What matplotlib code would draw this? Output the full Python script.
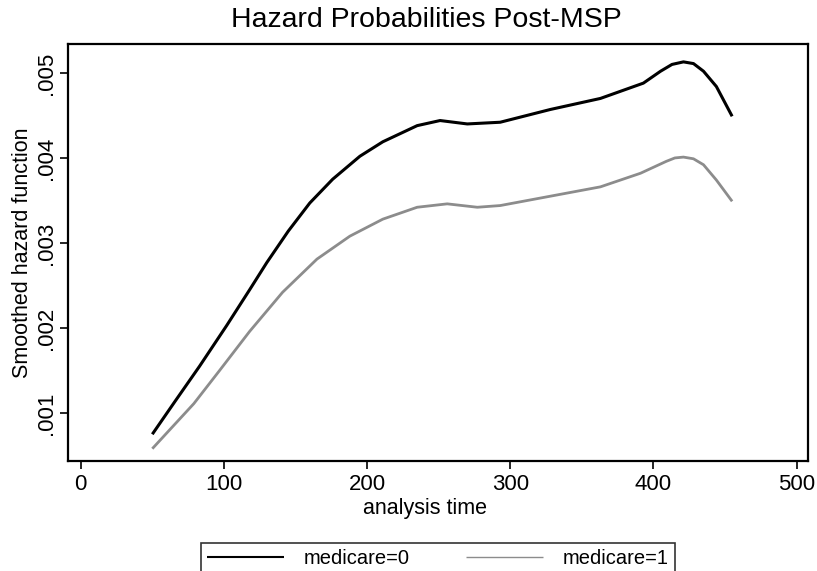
import matplotlib
matplotlib.use("Agg")
import matplotlib.pyplot as plt
from matplotlib.ticker import FuncFormatter

plt.rcParams['font.family'] = ['Liberation Sans', 'DejaVu Sans']

# data
time_m0 = [50, 66, 83, 102, 118, 130, 145, 160, 176, 195, 211, 235, 251, 270,
           293, 328, 363, 393, 405, 413, 421, 428, 435, 444, 455]
hazard_m0 = [0.00075, 0.00114, 0.00155, 0.00203, 0.00245, 0.00277, 0.00314,
             0.00347, 0.00375, 0.00402, 0.00419, 0.00438, 0.00444, 0.00440,
             0.00442, 0.00457, 0.00470, 0.00488, 0.00502, 0.00510, 0.00513,
             0.00511, 0.00502, 0.00484, 0.00449]
time_m1 = [50, 79, 97, 118, 141, 165, 188, 211, 235, 256, 277, 293, 328,
           363, 391, 409, 415, 421, 428, 435, 444, 455]
hazard_m1 = [0.00058, 0.00111, 0.00150, 0.00196, 0.00242, 0.00281, 0.00308,
             0.00328, 0.00342, 0.00346, 0.00342, 0.00344, 0.00355, 0.00366,
             0.00382, 0.00396, 0.00400, 0.00401, 0.00399, 0.00392, 0.00374,
             0.00349]
x_ticks = [0, 100, 200, 300, 400, 500]
y_ticks = [0.001, 0.002, 0.003, 0.004, 0.005]
labels = ["medicare=0", "medicare=1"]
title = "Hazard Probabilities Post-MSP"

fig = plt.figure(figsize=(8.17, 5.71), dpi=100)
ax = fig.add_axes([0.0832, 0.1926, 0.9058, 0.7303])

l0, = ax.plot(time_m0, hazard_m0, color='black', lw=2.2,
              solid_joinstyle='round', solid_capstyle='butt')
l1, = ax.plot(time_m1, hazard_m1, color='#8c8c8c', lw=2.0,
              solid_joinstyle='round', solid_capstyle='butt')

ax.set_xlim(-8.9, 508)
ax.set_ylim(0.000435, 0.00534)
ax.set_xticks(x_ticks)
ax.set_yticks(y_ticks)
ax.yaxis.set_major_formatter(FuncFormatter(lambda v, p: ("%.3f" % v).lstrip('0')))
ax.tick_params(axis='both', direction='out', length=6, width=1.2,
               labelsize=16, colors='black')
ax.tick_params(axis='y', pad=2)
for lab in ax.get_yticklabels():
    lab.set_rotation(90)
    lab.set_va('center')
for s in ax.spines.values():
    s.set_linewidth(1.6)
    s.set_color('black')

ax.set_xlabel("analysis time", fontsize=15.5, labelpad=2)
ax.xaxis.label.set_x(0.482)
ax.set_ylabel("Smoothed hazard function", fontsize=15.5, labelpad=2)
fig.text(426 / 817, 1 - 20 / 571, title, ha='center', va='center', fontsize=20.5)

leg = fig.legend([l0, l1], labels, ncol=2, loc='upper center',
                 bbox_to_anchor=(438 / 817, 1 - 533 / 571), fontsize=14.5,
                 frameon=True, fancybox=False, handlelength=3.8,
                 columnspacing=2.8, borderpad=0.3, handletextpad=1.0)
leg.get_frame().set_edgecolor('black')
leg.get_frame().set_linewidth(1.2)
leg.legend_handles[0].set_linewidth(1.5)
leg.legend_handles[1].set_linewidth(1.0)

fig.savefig("out.png", dpi=100)
